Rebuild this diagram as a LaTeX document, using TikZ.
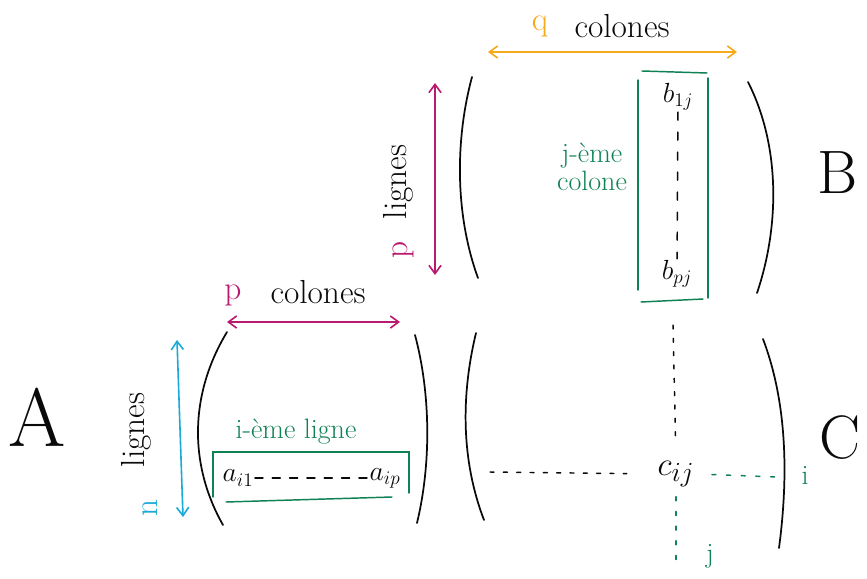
\documentclass[tikz,border=0pt]{standalone}
\usepackage{tikz}
\usetikzlibrary{arrows.meta}
\usepackage{xcolor}
\definecolor{cyanhand}{RGB}{25,170,215}
\definecolor{magentahand}{RGB}{185,25,110}
\definecolor{orangehand}{RGB}{245,170,25}
\definecolor{greenhand}{RGB}{15,130,85}
\definecolor{ink}{RGB}{10,10,10}
\tikzset{
  paren/.style={draw=ink,line width=1.3pt,line cap=round},
  span/.style={line width=1.2pt,line cap=round,{Straight Barb[length=2.2mm,width=3.2mm]}-{Straight Barb[length=2.2mm,width=3.2mm]}},
  framebox/.style={draw=greenhand,line width=1.1pt,line cap=round},
  word/.style={font=\fontsize{25}{28}\selectfont,text=ink,inner sep=0pt},
  gword/.style={font=\fontsize{21}{23}\selectfont,text=greenhand,inner sep=0pt,align=center},
  entry/.style={font=\fontsize{22}{25}\selectfont,text=ink,inner sep=1pt},
  bigletter/.style={font=\fontsize{46}{50}\selectfont,text=ink,inner sep=0pt},
  dotline/.style={draw=ink,line width=1.1pt,dash pattern=on 3pt off 7pt,line cap=round},
  gdotline/.style={draw=greenhand,line width=1.1pt,dash pattern=on 3pt off 8pt,line cap=round}
}

\begin{document}
\begin{tikzpicture}[x=0.75pt,y=-0.75pt]
  \useasboundingbox[fill=white] (0,0) rectangle (867,578);

  % matrix A
  \draw[paren] (227,332) .. controls (189,395) and (189,465) .. (223,525);
  \draw[paren] (415,335) .. controls (431,395) and (431,465) .. (417,523);
  \node[bigletter,font=\fontsize{62}{66}\selectfont] (nameA) at (37,417) {A};
  \coordinate (ntop) at (177,340);
  \coordinate (nbot) at (183,517);
  \draw[span,cyanhand] (ntop) -- (nbot);
  \node[word,rotate=90] (lignesA) at (136,430) {lignes};
  \node[word,rotate=90,text=cyanhand] (nA) at (150,508) {n};
  \coordinate (pleft) at (227,322);
  \coordinate (pright) at (400,322);
  \draw[span,magentahand] (pleft) -- (pright);
  \node[word,text=magentahand] (pA) at (233,295) {p};
  \node[word] (colA) at (318,292) {colones};
  \node[gword] (ligne) at (296,432) {i-ème ligne};
  \node[entry] (a1) at (238,478) {$a_{i1}$};
  \node[entry] (ap) at (385,478) {$a_{ip}$};
  \draw[dotline,dash pattern=on 6pt off 7pt] (a1) -- (ap);
  \draw[framebox] (213,497) -- (213,452) -- (409,452) -- (409,493);
  \draw[framebox] (226,502) -- (392,497);

  % matrix B
  \draw[paren] (472,77) .. controls (455,140) and (455,215) .. (478,278);
  \draw[paren] (748,82) .. controls (780,145) and (780,225) .. (757,293);
  \node[bigletter] (nameB) at (838,173) {B};
  \coordinate (ptop) at (435,83);
  \coordinate (pbot) at (435,275);
  \draw[span,magentahand] (ptop) -- (pbot);
  \node[word,rotate=90] (lignesB) at (398,182) {lignes};
  \node[word,rotate=90,text=magentahand] (pB) at (403,250) {p};
  \coordinate (qleft) at (488,52);
  \coordinate (qright) at (737,52);
  \draw[span,orangehand] (qleft) -- (qright);
  \node[word,text=orangehand] (qB) at (540,26) {q};
  \node[word] (colB) at (622,26) {colones};
  \node[gword] (colone) at (592,167) {j-ème\\[-2pt]colone};
  \node[entry] (b1) at (678,97) {$b_{1j}$};
  \node[entry] (bp) at (677,274) {$b_{pj}$};
  \draw[dotline,dash pattern=on 6pt off 9pt] (b1) -- (bp);
  \draw[framebox] (638,80) -- (638,290);
  \draw[framebox] (708,78) -- (708,298);
  \draw[framebox] (642,71) -- (707,73);
  \draw[framebox] (641,302) -- (703,299);

  % matrix C
  \draw[paren] (476,333) .. controls (461,395) and (461,460) .. (484,520);
  \draw[paren] (763,339) .. controls (788,405) and (788,480) .. (779,548);
  \node[bigletter] (nameC) at (840,438) {C};
  \node[entry,font=\fontsize{28}{30}\selectfont] (cij) at (676,474) {$c_{ij}$};
  \coordinate (rowstart) at (490,472);
  \coordinate (colstart) at (673,325);
  \draw[dotline,shorten >=22pt] (rowstart) -- (cij.west);
  \draw[dotline,shorten >=12pt] (colstart) -- (cij.north);
  \node[gword] (idx) at (805,475) {i};
  \node[gword] (jdx) at (710,556) {j};
  \coordinate (iend) at (778,477);
  \coordinate (jend) at (676,563);
  \draw[gdotline,shorten <=12pt] (cij.east) -- (iend);
  \draw[gdotline,shorten <=6pt] (cij.south) -- (jend);
\end{tikzpicture}
\end{document}
